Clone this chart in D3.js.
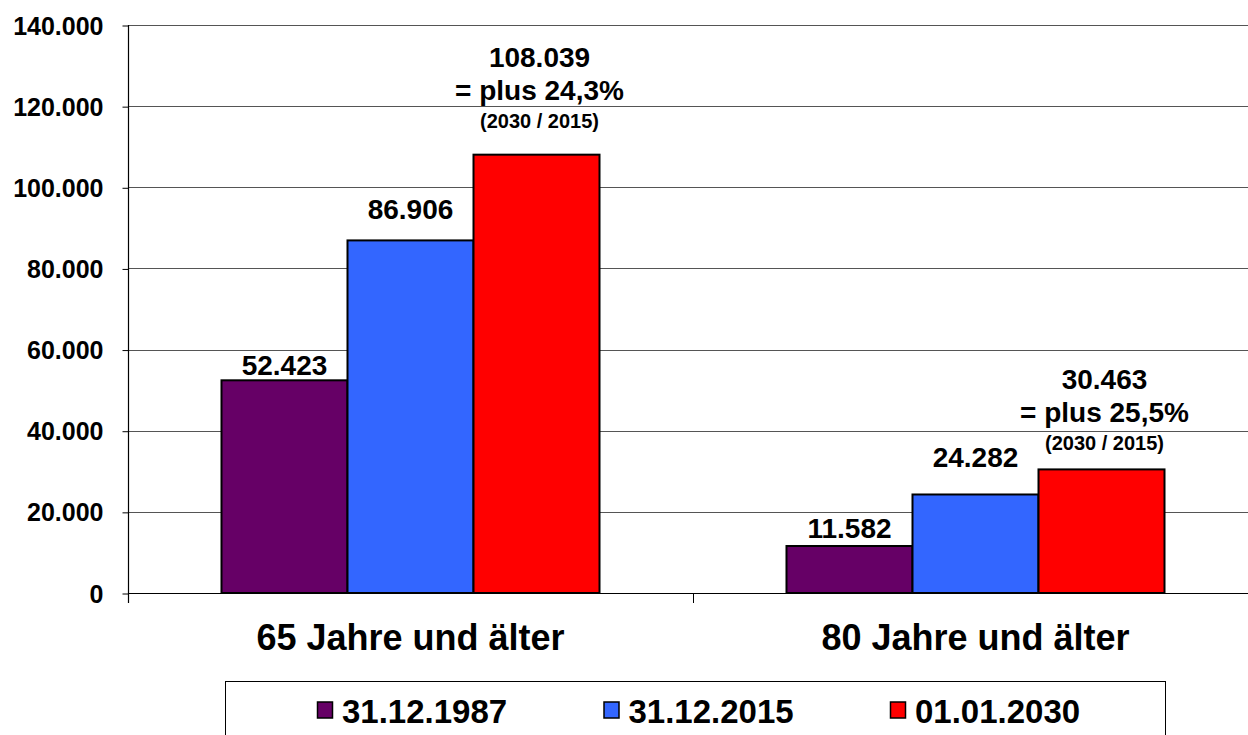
<!DOCTYPE html>
<html>
<head>
<meta charset="utf-8">
<script src="https://cdn.jsdelivr.net/npm/d3@7"></script>
<style>
  html, body { margin: 0; padding: 0; background: #fff; }
  svg { display: block; }
  text { font-family: "Liberation Sans", Arial, sans-serif; font-weight: bold; fill: #000; }
</style>
</head>
<body>
<svg id="chart" width="1248" height="735"></svg>
<script>
// ---- data ----
const categories = ["65 Jahre und älter", "80 Jahre und älter"];
const seriesNames = ["31.12.1987", "31.12.2015", "01.01.2030"];
const seriesColors = ["#660066", "#3366FF", "#FF0000"];
const values1987 = [52423, 11582];
const values2015 = [86906, 24282];
const values2030 = [108039, 30463];
const yTicks = [0, 20000, 40000, 60000, 80000, 100000, 120000, 140000];
const growthNote = "(2030 / 2015)";

const seriesValues = [values1987, values2015, values2030];

const de = d3.formatLocale({ decimal: ",", thousands: ".", grouping: [3], currency: ["", "€"] });
const fmtInt = de.format(",d");
const fmtPct = de.format(".1f");

const svg = d3.select("#chart");

const plot = { left: 128, right: 1258, top: 25, bottom: 593 };

const x0 = d3.scaleBand().domain(categories).range([plot.left, plot.right]).paddingInner(0).paddingOuter(0);
const x1 = d3.scaleBand().domain(seriesNames).range([0, x0.bandwidth()]).paddingInner(0).paddingOuter(0.742);
const y = d3.scaleLinear().domain([0, 140000]).range([plot.bottom, plot.top]);

// gridlines
svg.append("g")
  .selectAll("line")
  .data(yTicks.filter(t => t > 0))
  .join("line")
  .attr("x1", plot.left).attr("x2", 1248)
  .attr("y1", d => Math.round(y(d)) + 0.5).attr("y2", d => Math.round(y(d)) + 0.5)
  .attr("stroke", "#555").attr("stroke-width", 1);

// y axis
const yAxis = d3.axisLeft(y).tickValues(yTicks).tickSize(6).tickPadding(19)
  .tickFormat(d => fmtInt(d));
const gy = svg.append("g").attr("transform", `translate(${plot.left + 0.5},0)`).call(yAxis);
gy.select(".domain").remove();
gy.selectAll(".tick line").attr("stroke", "#000").attr("stroke-width", 1)
  .attr("transform", "translate(0,0.5)");
gy.selectAll(".tick text")
  .style("font-family", '"Liberation Sans", Arial, sans-serif')
  .style("font-weight", "bold")
  .style("font-size", "25px")
  .attr("dy", "0.36em").attr("fill", "#000");
svg.append("line")
  .attr("x1", plot.left + 0.5).attr("x2", plot.left + 0.5)
  .attr("y1", plot.top).attr("y2", plot.bottom + 10)
  .attr("stroke", "#000").attr("stroke-width", 1.2);

// bars
const groups = svg.append("g").selectAll("g")
  .data(categories)
  .join("g")
  .attr("transform", d => `translate(${x0(d)},0)`);

groups.selectAll("rect")
  .data((c, ci) => seriesNames.map((s, si) => ({ s, si, ci, v: seriesValues[si][ci] })))
  .join("rect")
  .attr("x", d => x1(d.s))
  .attr("width", x1.bandwidth())
  .attr("y", d => y(d.v))
  .attr("height", d => y(0) - y(d.v))
  .attr("fill", d => seriesColors[d.si])
  .attr("stroke", "#000")
  .attr("stroke-width", 2);

// x axis
svg.append("line")
  .attr("x1", plot.left).attr("x2", 1248)
  .attr("y1", plot.bottom + 0.5).attr("y2", plot.bottom + 0.5)
  .attr("stroke", "#000").attr("stroke-width", 1.2);
svg.append("g").selectAll("line")
  .data(categories.slice(1))
  .join("line")
  .attr("x1", d => x0(d) + 0.5).attr("x2", d => x0(d) + 0.5)
  .attr("y1", plot.bottom).attr("y2", plot.bottom + 10)
  .attr("stroke", "#000").attr("stroke-width", 1);

svg.append("g").selectAll("text")
  .data(categories)
  .join("text")
  .attr("x", d => x0(d) + x0.bandwidth() / 2)
  .attr("y", 650)
  .attr("text-anchor", "middle")
  .style("font-size", "36px")
  .text(d => d);

// data labels (offsets above bar top, per series and category)
const labelOffsets = [[5, 8], [21, 27]];
const redOffsets = [[88, 55, 27], [80, 47, 19]];

groups.each(function (c, ci) {
  const g = d3.select(this);
  seriesNames.forEach((s, si) => {
    const v = seriesValues[si][ci];
    const cx = x1(s) + x1.bandwidth() / 2;
    const top = y(v);
    if (si < 2) {
      g.append("text")
        .attr("x", cx).attr("y", top - labelOffsets[si][ci])
        .attr("text-anchor", "middle")
        .style("font-size", "28px")
        .text(fmtInt(v));
    } else {
      const pct = (v / values2015[ci] - 1) * 100;
      const offs = redOffsets[ci];
      g.append("text").attr("x", cx + 3).attr("y", top - offs[0])
        .attr("text-anchor", "middle").style("font-size", "28px").text(fmtInt(v));
      g.append("text").attr("x", cx + 3).attr("y", top - offs[1])
        .attr("text-anchor", "middle").style("font-size", "28px")
        .text("= plus " + fmtPct(pct) + "%");
      g.append("text").attr("x", cx + 3).attr("y", top - offs[2])
        .attr("text-anchor", "middle").style("font-size", "20px").text(growthNote);
    }
  });
});

// legend
const legend = svg.append("g");
legend.append("rect")
  .attr("x", 225.5).attr("y", 681.5).attr("width", 940).attr("height", 80)
  .attr("fill", "#fff").attr("stroke", "#000").attr("stroke-width", 1);
const legendStep = 286.5;
const items = legend.selectAll("g.item")
  .data(seriesNames)
  .join("g").attr("class", "item")
  .attr("transform", (d, i) => `translate(${317 + i * legendStep},0)`);
items.append("rect")
  .attr("x", 0.5).attr("y", 702).attr("width", 15).attr("height", 16)
  .attr("fill", (d, i) => seriesColors[i])
  .attr("stroke", "#000").attr("stroke-width", 1.5);
items.append("text")
  .attr("x", 25).attr("y", 723)
  .style("font-size", "33px")
  .text(d => d);
</script>
</body>
</html>
